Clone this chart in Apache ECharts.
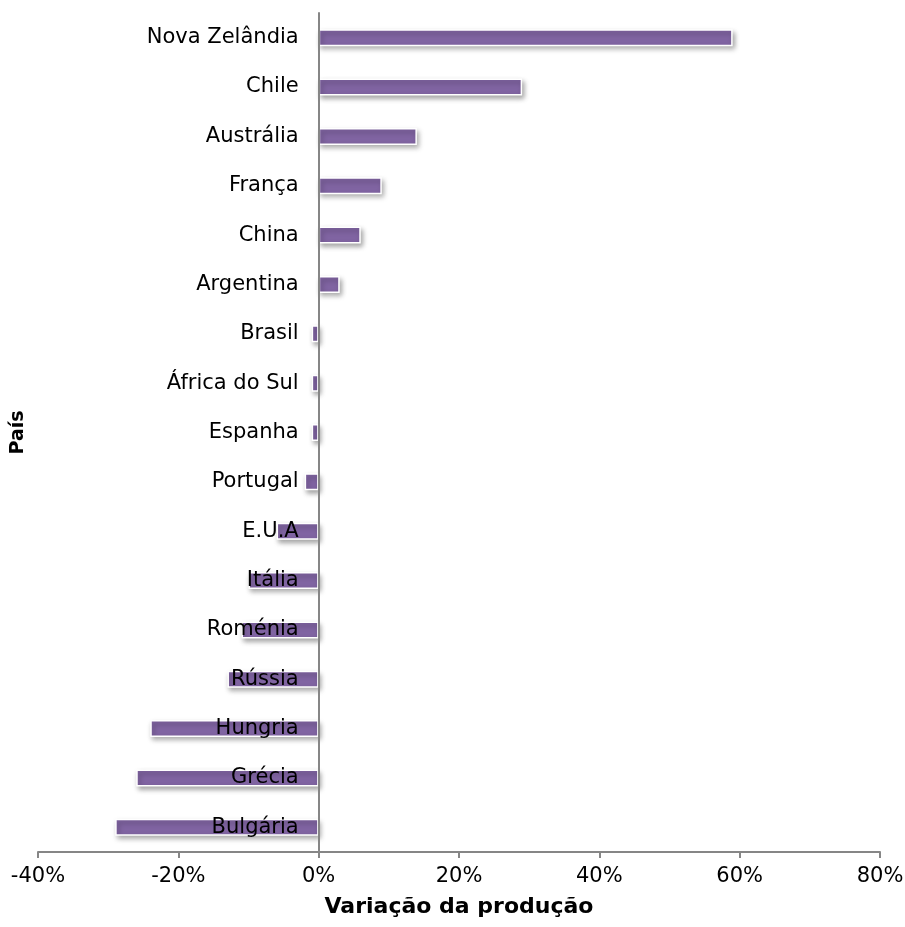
<!DOCTYPE html>
<html>
<head>
<meta charset="utf-8">
<script src="https://cdn.jsdelivr.net/npm/echarts@6/dist/echarts.min.js"></script>
<style>html,body{margin:0;padding:0;background:#fff}#c{width:905px;height:927px}</style>
</head>
<body>
<div id="c"></div>
<script>
// Data (top to bottom as in the picture)
var categories = ['Nova Zelândia','Chile','Austrália','França','China','Argentina','Brasil','África do Sul','Espanha','Portugal','E.U.A','Itália','Roménia','Rússia','Hungria','Grécia','Bulgária'];
var values = [59, 29, 14, 9, 6, 3, -1, -1, -1, -2, -6, -10, -11, -13, -24, -26, -29];
var xTicks = [-40, -20, 0, 20, 40, 60, 80];

var FONT = 'DejaVu Sans, Liberation Sans, Arial, sans-serif';
var GRID_LEFT = 38, GRID_RIGHT = 25, W = 905;
var xMin = xTicks[0], xMax = xTicks[xTicks.length - 1];
// shift the category axis onto the 0% position of the value axis
var zeroOffset = -((W - GRID_LEFT - GRID_RIGHT) * (0 - xMin) / (xMax - xMin));

var chart = echarts.init(document.getElementById('c'));
chart.setOption({
  animation: false,
  backgroundColor: '#ffffff',
  textStyle: { fontFamily: FONT },
  grid: { left: GRID_LEFT, right: GRID_RIGHT, top: 13, bottom: 75, containLabel: false, outerBoundsMode: 'none' },
  xAxis: {
    type: 'value',
    min: xMin, max: xMax, interval: 20,
    splitLine: { show: false },
    axisLine: { show: true, onZero: false, lineStyle: { color: '#868686', width: 2 } },
    axisTick: { show: true, length: 6, lineStyle: { color: '#868686', width: 2 } },
    axisLabel: { formatter: '{value}%', color: '#000', fontSize: 21, margin: 14, fontFamily: FONT },
    name: 'Variação da produção',
    nameLocation: 'middle',
    nameGap: 44,
    nameTextStyle: { fontWeight: 'bold', fontSize: 22, color: '#000', fontFamily: FONT }
  },
  yAxis: {
    type: 'category',
    data: categories,
    inverse: true,
    z: 10,
    offset: zeroOffset,
    axisLine: { show: true, onZero: false, lineStyle: { color: '#868686', width: 2 } },
    axisTick: { show: false },
    axisLabel: { color: '#000', fontSize: 21, margin: 20, fontFamily: FONT },
    name: 'País',
    nameLocation: 'middle',
    nameGap: 291,
    nameRotate: 90,
    nameTextStyle: { fontWeight: 'bold', fontSize: 19, color: '#000', fontFamily: FONT }
  },
  series: [{
    type: 'bar',
    data: values,
    barWidth: 17,
    itemStyle: {
      color: '#8064A2',
      borderColor: '#ffffff',
      borderWidth: 1.5,
      shadowColor: 'rgba(0,0,0,0.35)',
      shadowBlur: 5,
      shadowOffsetX: 2,
      shadowOffsetY: 3
    }
  }]
});
</script>
</body>
</html>
